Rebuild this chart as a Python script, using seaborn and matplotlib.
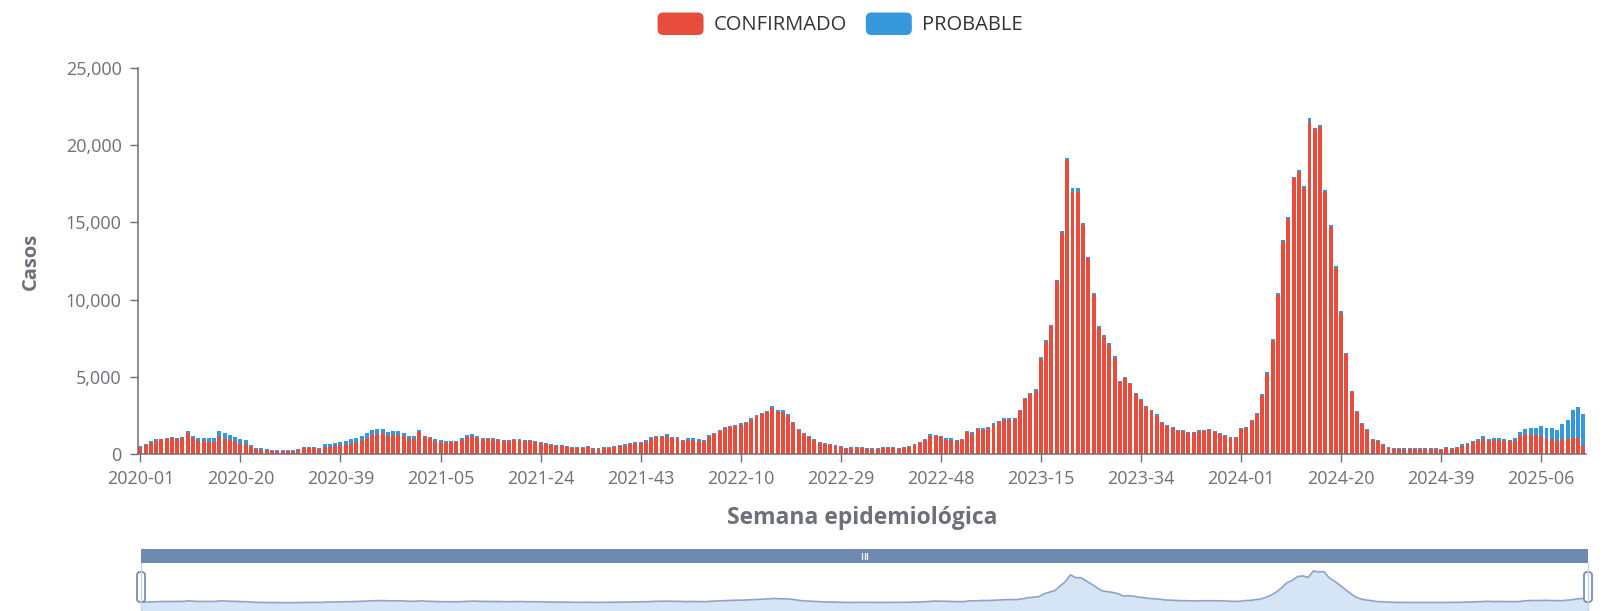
import numpy as np
import pandas as pd
import matplotlib
matplotlib.use("Agg")
import matplotlib.pyplot as plt
import seaborn as sns
from matplotlib.patches import FancyBboxPatch, Patch, Rectangle
from matplotlib.legend_handler import HandlerPatch

RED = "#e74c3c"
BLUE = "#3498db"
AXIS_GREY = "#6e7079"

# epidemiological weeks shown on the category axis
weeks_per_year = {2020: 53, 2021: 52, 2022: 52, 2023: 52, 2024: 52, 2025: 14}
semanas = [f"{y}-{w:02d}" for y, n in weeks_per_year.items() for w in range(1, n + 1)]

# full bar height (confirmado + probable)
total_2020 = [520, 650, 820, 940, 1000, 1040, 1070, 1050, 1080, 1490,
              1180, 1050, 1030, 1030, 1040, 1460, 1330, 1220, 1110, 950,
              900, 600, 420, 370, 340, 280, 260, 250, 240, 250,
              310, 430, 470, 470, 380, 620, 640, 740, 800, 860,
              950, 1060, 1160, 1330, 1540, 1620, 1650, 1420, 1480, 1480,
              1360, 1150, 1150]
total_2021 = [1540, 1170, 1120, 950, 890, 840, 850, 860, 1020, 1230,
              1280, 1160, 1040, 1020, 1010, 990, 880, 900, 990, 990,
              880, 880, 850, 760, 700, 640, 560, 560, 540, 440,
              480, 480, 500, 420, 420, 460, 480, 500, 560, 620,
              700, 780, 800, 900, 1100, 1170, 1170, 1280, 1120, 1120,
              910, 1010]
total_2022 = [1010, 950, 880, 1220, 1380, 1580, 1760, 1810, 1880, 1990,
              2100, 2300, 2520, 2650, 2810, 3100, 2850, 2850, 2600, 2100,
              1600, 1340, 1190, 950, 770, 690, 650, 590, 490, 360,
              440, 450, 430, 360, 380, 390, 430, 430, 430, 410,
              480, 540, 630, 800, 950, 1270, 1260, 1170, 1010, 1010,
              910, 990]
total_2023 = [1510, 1400, 1710, 1660, 1770, 1990, 2140, 2310, 2310, 2350,
              2850, 3610, 3970, 4190, 6260, 7360, 8380, 11300, 14460, 19160,
              17200, 17200, 14950, 12790, 10450, 8270, 7710, 7170, 6350, 4730,
              4990, 4620, 3970, 3540, 3110, 2850, 2560, 2060, 1880, 1770,
              1580, 1580, 1400, 1400, 1560, 1560, 1600, 1520, 1360, 1260,
              1120, 1080]
total_2024 = [1660, 1770, 2200, 2660, 3860, 5330, 7430, 10410, 13870, 15330,
              17970, 18400, 17370, 21750, 21140, 21320, 17100, 14840, 12160, 9280,
              6520, 4100, 2790, 2030, 1600, 970, 910, 650, 475, 370,
              370, 370, 410, 410, 370, 410, 410, 370, 350, 475,
              410, 475, 630, 690, 860, 970, 1140, 990, 1010, 1010,
              970, 910]
total_2025 = [1010, 1450, 1640, 1690, 1660, 1830, 1660, 1660, 1530, 1930,
              2200, 2830, 3070, 2610]

# blue (probable) part on top of each bar
prob_2020 = [60, 80, 80, 70, 60, 60, 60, 50, 60, 110,
             150, 180, 220, 250, 280, 380, 350, 330, 300, 280,
             260, 150, 120, 100, 80, 60, 50, 50, 50, 50,
             50, 50, 50, 50, 50, 150, 170, 200, 220, 250,
             280, 300, 300, 280, 300, 320, 300, 250, 230, 220,
             200, 150, 150]
prob_2021 = [120, 100, 100, 100, 100, 100, 100, 100, 100, 100,
             100, 100, 70, 70, 70, 70, 70, 70, 70, 70,
             70, 70, 70, 70, 70, 70, 70, 70, 70, 70,
             70, 70, 70, 70, 70, 70, 70, 70, 70, 70,
             70, 70, 70, 100, 100, 100, 100, 100, 100, 100,
             100, 100]
prob_2022 = [100, 100, 100, 100, 80, 80, 80, 80, 80, 80,
             80, 80, 80, 80, 80, 150, 150, 150, 130, 100,
             60, 60, 60, 60, 60, 60, 60, 60, 60, 60,
             60, 60, 60, 60, 60, 60, 60, 60, 60, 60,
             60, 60, 60, 60, 60, 100, 100, 100, 100, 100,
             100, 100]
prob_2023 = [80, 80, 80, 80, 80, 80, 80, 80, 80, 80,
             80, 80, 80, 80, 120, 120, 120, 120, 120, 150,
             200, 200, 120, 120, 120, 120, 120, 120, 120, 70,
             70, 70, 70, 70, 70, 70, 70, 70, 70, 70,
             70, 70, 70, 70, 70, 70, 70, 70, 70, 70,
             70, 70]
prob_2024 = [70, 70, 70, 70, 120, 120, 120, 120, 120, 120,
             120, 120, 120, 250, 120, 120, 120, 120, 120, 120,
             60, 60, 60, 60, 60, 60, 60, 60, 60, 60,
             60, 60, 60, 60, 60, 60, 60, 60, 60, 60,
             60, 60, 80, 100, 100, 120, 150, 150, 120, 120,
             120, 100]
prob_2025 = [150, 300, 320, 460, 460, 640, 700, 710, 700, 970,
             1200, 1820, 2040, 2080]

casos_total = total_2020 + total_2021 + total_2022 + total_2023 + total_2024 + total_2025
probables = prob_2020 + prob_2021 + prob_2022 + prob_2023 + prob_2024 + prob_2025

df = pd.DataFrame({"semana": semanas, "total": casos_total, "probable": probables})
df["confirmado"] = df["total"] - df["probable"]

sns.set_theme(style="ticks")
plt.rcParams["font.family"] = ["Open Sans", "DejaVu Sans"]
FS_TICK, FS_LEG, FS_NAME, FS_YNAME = 13, 14.5, 16.5, 14.5

W, H = 1603, 611
fig = plt.figure(figsize=(W / 100, H / 100), dpi=100)
ax = fig.add_axes([137.7 / W, 1 - 454 / H, (1586 - 137.7) / W, (454 - 68) / H])

# stacked look: full height in blue, confirmed part drawn over it in red
sns.barplot(data=df, x="semana", y="total", color=BLUE, saturation=1,
            width=0.75, errorbar=None, linewidth=0, ax=ax)
sns.barplot(data=df, x="semana", y="confirmado", color=RED, saturation=1,
            width=0.75, errorbar=None, linewidth=0, ax=ax)

ax.set_xlim(-0.5, len(df) - 0.5)
ax.set_ylim(0, 25000)
tick_idx = list(range(0, len(df), 19))
ax.set_xticks(tick_idx, [semanas[i] for i in tick_idx])
yt = list(range(0, 25001, 5000))
ax.set_yticks(yt, [f"{v:,}" for v in yt])
ax.set_xlabel("")
ax.set_ylabel("")
sns.despine(ax=ax)
for s in ("left", "bottom"):
    ax.spines[s].set_color(AXIS_GREY)
    ax.spines[s].set_linewidth(1.1)
ax.tick_params(axis="x", length=5.5, width=1, pad=6, colors=AXIS_GREY, labelsize=FS_TICK)
ax.tick_params(axis="y", length=5.5, width=1, pad=6, colors=AXIS_GREY, labelsize=FS_TICK)

fig.text(31 / W, 1 - 261 / H, "Casos", rotation=90, ha="center", va="center",
         fontsize=FS_YNAME, fontweight="bold", color=AXIS_GREY)
fig.text(862 / W, 1 - 518 / H, "Semana epidemiológica", ha="center", va="center",
         fontsize=FS_NAME, fontweight="bold", color=AXIS_GREY)


class RoundHandler(HandlerPatch):
    def create_artists(self, legend, orig_handle, xdescent, ydescent, width, height, fontsize, trans):
        p = FancyBboxPatch((-xdescent, -ydescent), width, height,
                           boxstyle=f"round,pad=0,rounding_size={height * 0.25:.2f}",
                           facecolor=orig_handle.get_facecolor(), edgecolor="none", transform=trans)
        return [p]


fs_px = FS_LEG / 0.72
handles = [Patch(facecolor=RED, label="CONFIRMADO"), Patch(facecolor=BLUE, label="PROBABLE")]
fig.legend(handles=handles, loc="center", bbox_to_anchor=(840 / W, 1 - 24 / H), ncol=2,
           frameon=False, fontsize=FS_LEG, labelcolor="#333333",
           handlelength=46 / fs_px, handleheight=27 / fs_px,
           handletextpad=10 / fs_px, columnspacing=19 / fs_px,
           handler_map={Patch: RoundHandler()})

# data zoom slider strip at the bottom
sl = fig.add_axes([141 / W, 0, 1447 / W, 48 / H])
x = np.arange(len(df))
sl.fill_between(x, df["total"], -6000, color="#d5e5f6", lw=0)
sl.plot(x, df["total"], color="#8da4c8", lw=1.2)
sl.set_xlim(0, len(df) - 1)
sl.set_ylim(-5437, 27187)
sl.axis("off")

ov = fig.add_axes([0, 0, 1, 1], zorder=5)
ov.set_xlim(0, W)
ov.set_ylim(H, 0)
ov.axis("off")
ov.add_patch(Rectangle((141, 549), 1447, 14, color="#7089b0", lw=0))
for dx in (-2.5, 0, 2.5):
    ov.plot([864.5 + dx] * 2, [553, 559], color="white", lw=0.9)
for hx in (141, 1588):
    ov.plot([hx, hx], [563, H], color="#c9d3e6", lw=1)
    ov.add_patch(FancyBboxPatch((hx - 4, 572), 8, 30, boxstyle="round,pad=0,rounding_size=3",
                                fc="white", ec="#6f86ad", lw=1.2))

fig.savefig("out.png", dpi=100)
